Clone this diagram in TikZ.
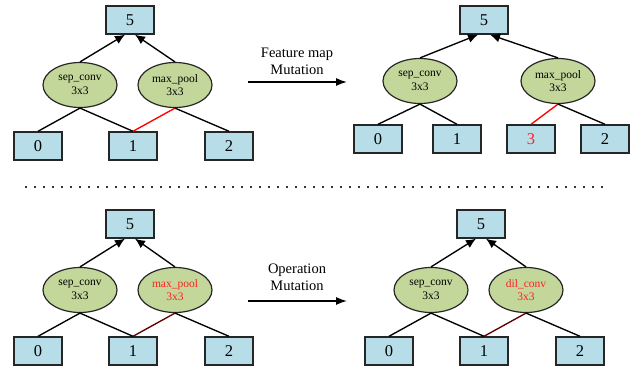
\documentclass[tikz,border=0pt]{standalone}
\usepackage{fontspec}
\setmainfont{Liberation Serif}
\usetikzlibrary{shapes.geometric,arrows.meta}
\definecolor{boxfill}{HTML}{B7DDE8}
\definecolor{opfill}{HTML}{C4D79B}
\definecolor{mutred}{HTML}{FF2020}
\definecolor{darkedge}{HTML}{600000}
\tikzset{
  numbox/.style={draw=black!85, line width=1.4pt, fill=boxfill, minimum width=48pt, minimum height=28pt, inner sep=0pt, font=\fontsize{16.5}{18}\selectfont},
  opnode/.style={ellipse, draw=black!85, line width=1.2pt, fill=opfill, minimum width=74pt, minimum height=45pt, inner sep=0pt, align=center, font=\fontsize{11.5}{13.5}\selectfont},
  edge/.style={line width=1.35pt, black},
  redge/.style={line width=1.35pt, red},
  dedge/.style={line width=1.35pt, darkedge},
  upar/.style={line width=1.35pt, black, -{Latex[length=10pt,width=9pt]}},
  mutar/.style={line width=1.4pt, black, -{Latex[length=11pt,width=8pt]}},
  mutlabel/.style={align=center, font=\fontsize{14.5}{17}\selectfont},
}
\begin{document}
\begin{tikzpicture}[x=1pt,y=-1pt]
\useasboundingbox (0,0) rectangle (644,366);

% ---------- top-left tree ----------
\node[numbox] (a5) at (130,20) {5};
\node[opnode] (asep) at (80,85) {sep\_conv\\3x3};
\node[opnode] (amax) at (175,85) {max\_pool\\3x3};
\node[numbox] (a0) at (38,146) {0};
\node[numbox] (a1) at (133,146) {1};
\node[numbox] (a2) at (229,146) {2};
\draw[upar] (asep.north) -- ([xshift=-5pt]a5.south);
\draw[upar] (amax.north) -- ([xshift=5pt]a5.south);
\draw[edge] (asep.south) -- (a0.north);
\draw[edge] (asep.south) -- (a1.north);
\draw[redge] (amax.south) -- (a1.north);
\draw[edge] (amax.south) -- (a2.north);

% ---------- top-right tree ----------
\node[numbox] (b5) at (484,20) {5};
\node[opnode] (bsep) at (420,81) {sep\_conv\\3x3};
\node[opnode] (bmax) at (558,81) {max\_pool\\3x3};
\node[numbox] (b0) at (378,139) {0};
\node[numbox] (b1) at (457,139) {1};
\node[numbox] (b3) at (531,139) {\textcolor{mutred}{3}};
\node[numbox] (b2) at (605,139) {2};
\draw[upar] (bsep.north) -- ([xshift=-6pt]b5.south);
\draw[upar] (bmax.north) -- ([xshift=6pt]b5.south);
\draw[edge] (bsep.south) -- (b0.north);
\draw[edge] (bsep.south) -- (b1.north);
\draw[redge] (bmax.south) -- (b3.north);
\draw[edge] (bmax.south) -- (b2.north);

% ---------- bottom-left tree ----------
\node[numbox] (c5) at (130,224) {5};
\node[opnode] (csep) at (80,290) {sep\_conv\\3x3};
\node[opnode] (cmax) at (175,290) {\textcolor{mutred}{max\_pool}\\\textcolor{mutred}{3x3}};
\node[numbox] (c0) at (38,351) {0};
\node[numbox] (c1) at (133,351) {1};
\node[numbox] (c2) at (229,351) {2};
\draw[upar] (csep.north) -- ([xshift=-5pt]c5.south);
\draw[upar] (cmax.north) -- ([xshift=5pt]c5.south);
\draw[edge] (csep.south) -- (c0.north);
\draw[edge] (csep.south) -- (c1.north);
\draw[dedge] (cmax.south) -- (c1.north);
\draw[edge] (cmax.south) -- (c2.north);

% ---------- bottom-right tree ----------
\node[numbox] (d5) at (481,224) {5};
\node[opnode] (dsep) at (431,290) {sep\_conv\\3x3};
\node[opnode] (ddil) at (526,290) {\textcolor{mutred}{dil\_conv}\\\textcolor{mutred}{3x3}};
\node[numbox] (d0) at (389,351) {0};
\node[numbox] (d1) at (484,351) {1};
\node[numbox] (d2) at (580,351) {2};
\draw[upar] (dsep.north) -- ([xshift=-5pt]d5.south);
\draw[upar] (ddil.north) -- ([xshift=5pt]d5.south);
\draw[edge] (dsep.south) -- (d0.north);
\draw[edge] (dsep.south) -- (d1.north);
\draw[dedge] (ddil.south) -- (d1.north);
\draw[edge] (ddil.south) -- (d2.north);

% ---------- mutation arrows ----------
\coordinate (m1s) at (248,82);
\coordinate (m1e) at (347,82);
\draw[mutar] (m1s) -- (m1e);
\node[mutlabel] (m1l) at (297,61) {Feature map\\Mutation};
\coordinate (m2s) at (248,301);
\coordinate (m2e) at (347,301);
\draw[mutar] (m2s) -- (m2e);
\node[mutlabel] (m2l) at (297,277) {Operation\\Mutation};

% ---------- separator ----------
\coordinate (sepl) at (25,187);
\coordinate (sepr) at (608,187);
\draw[line width=1.6pt, black!80, dash pattern=on 1.6pt off 7.4pt] (sepl) -- (sepr);
\end{tikzpicture}
\end{document}
